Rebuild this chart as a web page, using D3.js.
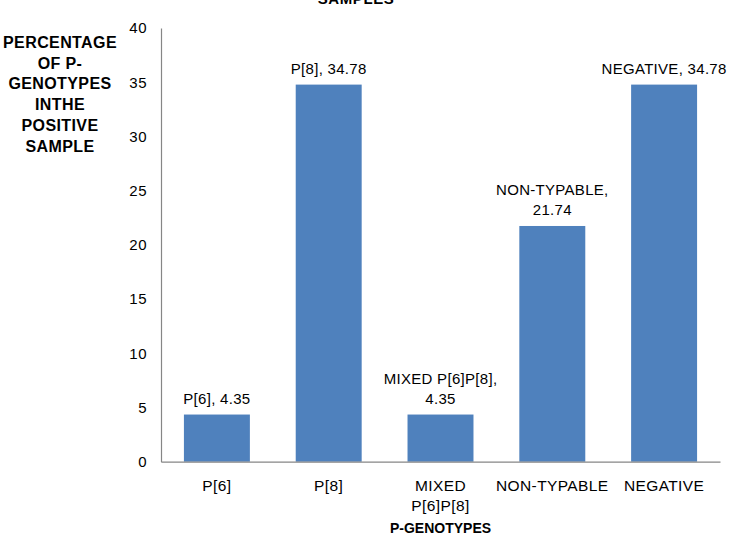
<!DOCTYPE html>
<html>
<head>
<meta charset="utf-8">
<script src="https://cdn.jsdelivr.net/npm/d3@7"></script>
<style>
  html, body { margin: 0; padding: 0; background: #fff; }
  svg { display: block; }
  text { font-family: "Liberation Sans", Arial, sans-serif; fill: #000; }
</style>
</head>
<body>
<svg id="chart" width="731" height="538"></svg>
<script>
const categories = ["P[6]", "P[8]", "MIXED P[6]P[8]", "NON-TYPABLE", "NEGATIVE"];
const values = [4.35, 34.78, 4.35, 21.74, 34.78];
const yTicks = [0, 5, 10, 15, 20, 25, 30, 35, 40];
const yTitleLines = ["PERCENTAGE", "OF P-", "GENOTYPES", "INTHE", "POSITIVE", "SAMPLE"];
const xTitle = "P-GENOTYPES";
const chartTitle = "SAMPLES";

const svg = d3.select("#chart");
const mLeft = 161, mRight = 720, mTop = 28, mBottom = 461.7;

const x = d3.scaleBand().domain(categories).range([mLeft, mRight]).paddingInner(0.41).paddingOuter(0.205);
const y = d3.scaleLinear().domain([0, 40]).range([mBottom, mTop]);

// bars
svg.append("g").selectAll("rect").data(categories).join("rect")
  .attr("x", d => x(d))
  .attr("width", x.bandwidth())
  .attr("y", (d, i) => y(values[i]))
  .attr("height", (d, i) => y(0) - y(values[i]))
  .attr("fill", "#4F81BD");

// axes
const yAxis = d3.axisLeft(y).tickValues(yTicks).tickSize(0).tickPadding(14);
const gy = svg.append("g").attr("transform", `translate(${mLeft},0)`).call(yAxis);
gy.select(".domain").attr("stroke", "#868686").attr("stroke-width", 1.2);
gy.selectAll("text").attr("font-size", 15).attr("letter-spacing", 0.5).attr("font-family", "Liberation Sans, Arial, sans-serif").attr("fill", "#000");

const xAxis = d3.axisBottom(x).tickSize(0).tickFormat("");
const gx = svg.append("g").attr("transform", `translate(0,${mBottom})`).call(xAxis);
gx.select(".domain").attr("stroke", "#868686").attr("stroke-width", 1.2);

// x category labels (wrapped at spaces)
svg.append("g").selectAll("text").data(categories).join("text")
  .attr("text-anchor", "middle")
  .attr("font-size", 15.5)
  .attr("letter-spacing", 0.4)
  .attr("x", d => x(d) + x.bandwidth() / 2)
  .attr("y", mBottom + 29)
  .each(function(d) {
    const lines = d.split(" ");
    const t = d3.select(this);
    lines.forEach((l, j) => {
      t.append("tspan").attr("x", x(d) + x.bandwidth() / 2).attr("dy", j === 0 ? 0 : 20).text(l);
    });
  });

// data labels
svg.append("g").selectAll("text").data(categories).join("text")
  .attr("text-anchor", "middle")
  .attr("font-size", 15)
  .attr("letter-spacing", 0.3)
  .each(function(d, i) {
    const full = d + ", " + values[i];
    const lines = full.length > 16 ? [d + ",", String(values[i])] : [full];
    const cx = x(d) + x.bandwidth() / 2;
    const baseY = y(values[i]) - 11 - (lines.length - 1) * 20;
    const t = d3.select(this).attr("x", cx).attr("y", baseY);
    lines.forEach((l, j) => {
      t.append("tspan").attr("x", cx).attr("dy", j === 0 ? 0 : 20).text(l);
    });
  });

// y axis title
const yt = svg.append("text").attr("text-anchor", "middle").attr("font-weight", "bold").attr("font-size", 16)
  .attr("letter-spacing", 0.4)
  .attr("x", 60).attr("y", 48);
yTitleLines.forEach((l, j) => {
  yt.append("tspan").attr("x", 60).attr("dy", j === 0 ? 0 : 20.7).text(l);
});

// x axis title
svg.append("text").attr("text-anchor", "middle").attr("font-weight", "bold").attr("font-size", 14)
  .attr("x", (mLeft + mRight) / 2).attr("y", 533).text(xTitle);

// chart title (clipped at top, as in the reference)
svg.append("text").attr("text-anchor", "middle").attr("font-weight", "bold").attr("font-size", 15)
  .attr("letter-spacing", 0.6)
  .attr("x", 356).attr("y", 4).text(chartTitle);
</script>
</body>
</html>
